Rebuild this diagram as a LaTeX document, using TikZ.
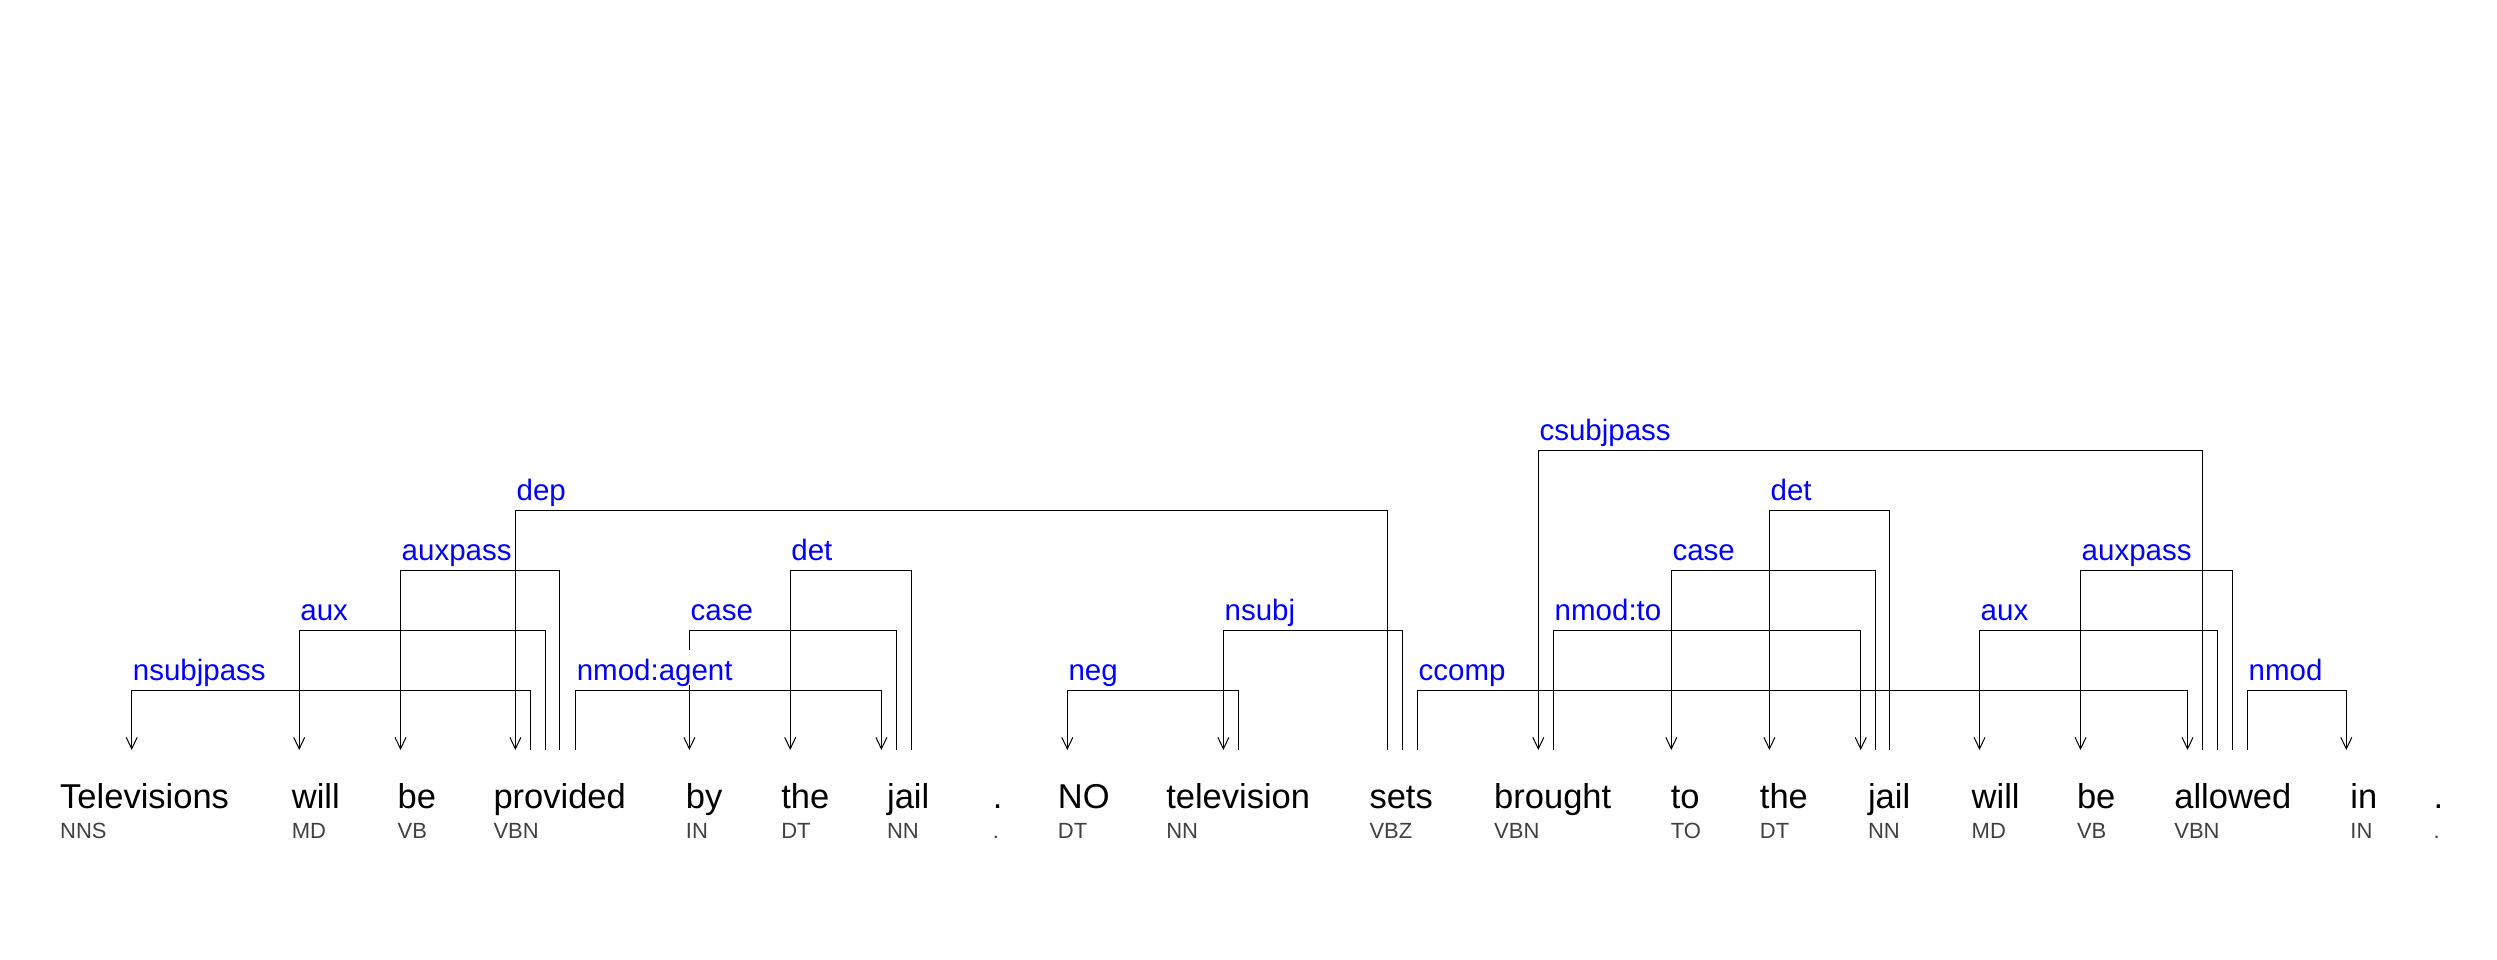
\documentclass[tikz,border=0pt]{standalone}
\usepackage{fontspec}
\setmainfont{Liberation Sans}
\usetikzlibrary{arrows.meta}
\definecolor{labblue}{RGB}{0,0,255}
\definecolor{posgray}{RGB}{64,64,64}
\begin{document}
\begin{tikzpicture}[x=1pt,y=-1pt,
  word/.style={anchor=base west,inner sep=0pt,font=\fontsize{34.5}{40}\selectfont},
  postag/.style={anchor=base west,inner sep=0pt,text=posgray,font=\fontsize{22}{26}\selectfont},
  lab/.style={anchor=base west,inner sep=0pt,text=labblue,fill=white,text height=30pt,text depth=4.5pt,font=\fontsize{29.5}{35}\selectfont},
  arcline/.style={line width=1pt,black},
  deparc/.style={arcline,-{Straight Barb[length=11.5pt,width=11pt]}}]
\useasboundingbox (0,0) rectangle (2497,960);
% levels
\coordinate (L1) at (0,690);
\coordinate (L2) at (0,630);
\coordinate (L3) at (0,570);
\coordinate (L4) at (0,510);
\coordinate (L5) at (0,450);
% words and tags
\node[word] (w1) at (60,808.5) {Televisions};   \node[postag] (t1) at (60,838) {NNS};
\node[word] (w2) at (291.7,808.5) {will};       \node[postag] (t2) at (291.7,838) {MD};
\node[word] (w3) at (397.4,808.5) {be};         \node[postag] (t3) at (397.4,838) {VB};
\node[word] (w4) at (493.3,808.5) {provided};   \node[postag] (t4) at (493.3,838) {VBN};
\node[word] (w5) at (685.7,808.5) {by};         \node[postag] (t5) at (685.7,838) {IN};
\node[word] (w6) at (781.1,808.5) {the};        \node[postag] (t6) at (781.1,838) {DT};
\node[word] (w7) at (886.9,808.5) {jail};       \node[postag] (t7) at (886.9,838) {NN};
\node[word] (w8) at (992.6,808.5) {.};          \node[postag] (t8) at (992.6,838) {.};
\node[word] (w9) at (1057.7,808.5) {NO};        \node[postag] (t9) at (1057.7,838) {DT};
\node[word] (w10) at (1166.1,808.5) {television}; \node[postag] (t10) at (1166.1,838) {NN};
\node[word] (w11) at (1369.3,808.5) {sets};     \node[postag] (t11) at (1369.3,838) {VBZ};
\node[word] (w12) at (1494,808.5) {brought};    \node[postag] (t12) at (1494,838) {VBN};
\node[word] (w13) at (1670.6,808.5) {to};       \node[postag] (t13) at (1670.6,838) {TO};
\node[word] (w14) at (1759.7,808.5) {the};      \node[postag] (t14) at (1759.7,838) {DT};
\node[word] (w15) at (1867.8,808.5) {jail};     \node[postag] (t15) at (1867.8,838) {NN};
\node[word] (w16) at (1971.5,808.5) {will};     \node[postag] (t16) at (1971.5,838) {MD};
\node[word] (w17) at (2076.8,808.5) {be};       \node[postag] (t17) at (2076.8,838) {VB};
\node[word] (w18) at (2174.1,808.5) {allowed};  \node[postag] (t18) at (2174.1,838) {VBN};
\node[word] (w19) at (2350.2,808.5) {in};       \node[postag] (t19) at (2350.2,838) {IN};
\node[word] (w20) at (2433.4,808.5) {.};        \node[postag] (t20) at (2433.4,838) {.};
% attachment points
\coordinate (w1a) at (131.7,750);
\coordinate (w2a) at (299.2,750);
\coordinate (w3a) at (400.5,750);
\coordinate (w4a) at (515.4,750);
\coordinate (w4o1) at (530.6,750);
\coordinate (w4o2) at (545.3,750);
\coordinate (w4o3) at (559.9,750);
\coordinate (w4o4) at (575.6,750);
\coordinate (w5a) at (689.4,750);
\coordinate (w6a) at (790.2,750);
\coordinate (w7a) at (881.4,750);
\coordinate (w7o1) at (896.6,750);
\coordinate (w7o2) at (911.2,750);
\coordinate (w9a) at (1067.3,750);
\coordinate (w10a) at (1223.4,750);
\coordinate (w10o1) at (1238.6,750);
\coordinate (w11o1) at (1387.1,750);
\coordinate (w11o2) at (1402.3,750);
\coordinate (w11o3) at (1417.5,750);
\coordinate (w12a) at (1538.3,750);
\coordinate (w12o1) at (1553.5,750);
\coordinate (w13a) at (1671.3,750);
\coordinate (w14a) at (1769.4,750);
\coordinate (w15a) at (1860.7,750);
\coordinate (w15o1) at (1875.3,750);
\coordinate (w15o2) at (1889.8,750);
\coordinate (w16a) at (1979.5,750);
\coordinate (w17a) at (2080.5,750);
\coordinate (w18a) at (2187.5,750);
\coordinate (w18o1) at (2202.6,750);
\coordinate (w18o2) at (2217.7,750);
\coordinate (w18o3) at (2232.3,750);
\coordinate (w18o4) at (2247.5,750);
\coordinate (w19a) at (2346.3,750);
% arcs, level 1
\draw[deparc] (w4o1) -- (w4o1 |- L1) -| (w1a);
\draw[deparc] (w4o4) -- (w4o4 |- L1) -| (w7a);
\draw[deparc] (w10o1) -- (w10o1 |- L1) -| (w9a);
\draw[deparc] (w11o3) -- (w11o3 |- L1) -| (w18a);
\draw[deparc] (w18o4) -- (w18o4 |- L1) -| (w19a);
% level 2
\draw[deparc] (w4o2) -- (w4o2 |- L2) -| (w2a);
\draw[deparc] (w7o1) -- (w7o1 |- L2) -| (w5a);
\draw[deparc] (w11o2) -- (w11o2 |- L2) -| (w10a);
\draw[deparc] (w12o1) -- (w12o1 |- L2) -| (w15a);
\draw[deparc] (w18o2) -- (w18o2 |- L2) -| (w16a);
% level 3
\draw[deparc] (w4o3) -- (w4o3 |- L3) -| (w3a);
\draw[deparc] (w7o2) -- (w7o2 |- L3) -| (w6a);
\draw[deparc] (w15o1) -- (w15o1 |- L3) -| (w13a);
\draw[deparc] (w18o3) -- (w18o3 |- L3) -| (w17a);
% level 4
\draw[deparc] (w11o1) -- (w11o1 |- L4) -| (w4a);
\draw[deparc] (w15o2) -- (w15o2 |- L4) -| (w14a);
% level 5
\draw[deparc] (w18o1) -- (w18o1 |- L5) -| (w12a);
% labels
\path (w1a |- L1) ++(1,-10) node[lab] (l1) {nsubjpass};
\path (w4o4 |- L1) ++(1,-10) node[lab] (l2) {nmod:agent};
\path (w9a |- L1) ++(1,-10) node[lab] (l3) {neg};
\path (w11o3 |- L1) ++(1,-10) node[lab] (l4) {ccomp};
\path (w18o4 |- L1) ++(1,-10) node[lab] (l5) {nmod};
\path (w2a |- L2) ++(1,-10) node[lab] (l6) {aux};
\path (w5a |- L2) ++(1,-10) node[lab] (l7) {case};
\path (w10a |- L2) ++(1,-10) node[lab] (l8) {nsubj};
\path (w12o1 |- L2) ++(1,-10) node[lab] (l9) {nmod:to};
\path (w16a |- L2) ++(1,-10) node[lab] (l10) {aux};
\path (w3a |- L3) ++(1,-10) node[lab] (l11) {auxpass};
\path (w6a |- L3) ++(1,-10) node[lab] (l12) {det};
\path (w13a |- L3) ++(1,-10) node[lab] (l13) {case};
\path (w17a |- L3) ++(1,-10) node[lab] (l14) {auxpass};
\path (w4a |- L4) ++(1,-10) node[lab] (l15) {dep};
\path (w14a |- L4) ++(1,-10) node[lab] (l16) {det};
\path (w12a |- L5) ++(1,-10) node[lab] (l17) {csubjpass};
\end{tikzpicture}
\end{document}
